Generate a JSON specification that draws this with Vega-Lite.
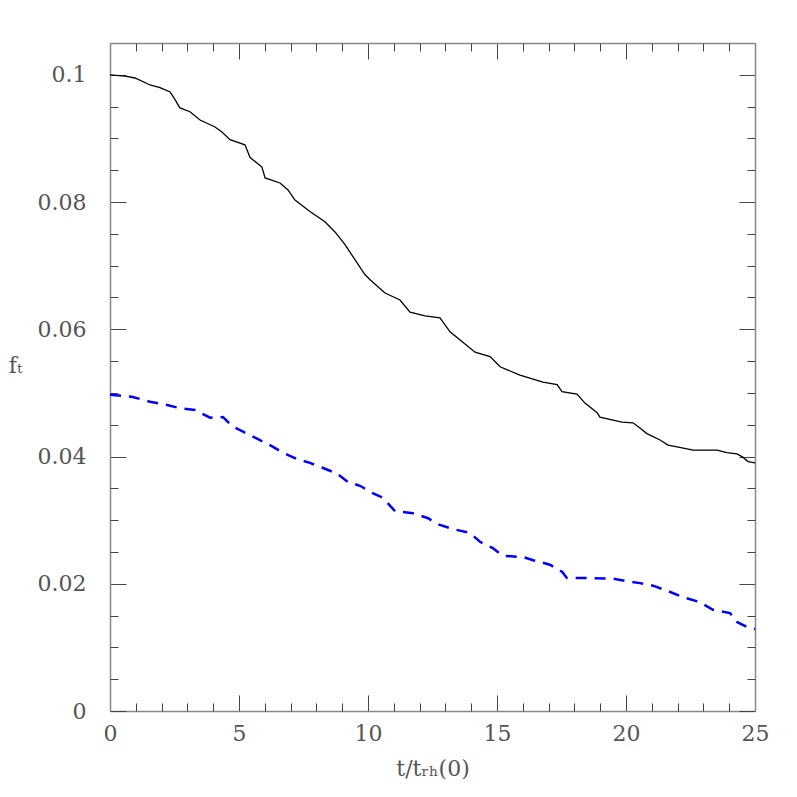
{
  "$schema": "https://vega.github.io/schema/vega-lite/v6.json",
  "width": 645,
  "height": 668,
  "autosize": {"type": "none"},
  "padding": {"left": 110, "top": 43, "right": 42, "bottom": 86},
  "background": "white",
  "config": {
    "view": {"stroke": null},
    "axis": {
      "labelFont": "DejaVu Serif",
      "labelFontSize": 22,
      "labelColor": "#555",
      "titleFont": "DejaVu Serif",
      "titleFontSize": 22,
      "titleFontWeight": "normal",
      "titleColor": "#555",
      "domainColor": "#888",
      "domainWidth": 1.5,
      "tickColor": "#444",
      "tickWidth": 1,
      "grid": false
    }
  },
  "datasets": {
    "black": [
      {"t": 0, "f": 0.1}, {"t": 0.58, "f": 0.0998}, {"t": 0.97, "f": 0.0995}, {"t": 1.55, "f": 0.0984},
      {"t": 1.94, "f": 0.098}, {"t": 2.33, "f": 0.0973}, {"t": 2.52, "f": 0.0961}, {"t": 2.71, "f": 0.0948},
      {"t": 3.1, "f": 0.0942}, {"t": 3.49, "f": 0.0929}, {"t": 4.07, "f": 0.0918}, {"t": 4.34, "f": 0.091},
      {"t": 4.65, "f": 0.0898}, {"t": 5.23, "f": 0.089}, {"t": 5.43, "f": 0.087}, {"t": 5.89, "f": 0.0855},
      {"t": 6.01, "f": 0.0838}, {"t": 6.59, "f": 0.083}, {"t": 6.9, "f": 0.0819}, {"t": 7.17, "f": 0.0803},
      {"t": 7.75, "f": 0.0785}, {"t": 8.33, "f": 0.0769}, {"t": 8.72, "f": 0.0753}, {"t": 9.11, "f": 0.0733},
      {"t": 9.5, "f": 0.0709}, {"t": 9.88, "f": 0.0686}, {"t": 10.08, "f": 0.0678}, {"t": 10.66, "f": 0.0657},
      {"t": 11.24, "f": 0.0646}, {"t": 11.63, "f": 0.0627}, {"t": 12.21, "f": 0.0621}, {"t": 12.79, "f": 0.0618},
      {"t": 13.18, "f": 0.0596}, {"t": 13.57, "f": 0.0583}, {"t": 14.15, "f": 0.0564}, {"t": 14.73, "f": 0.0557},
      {"t": 15.12, "f": 0.0541}, {"t": 15.89, "f": 0.0528}, {"t": 16.78, "f": 0.0517}, {"t": 17.33, "f": 0.0513},
      {"t": 17.52, "f": 0.0502}, {"t": 18.1, "f": 0.0498}, {"t": 18.41, "f": 0.0484}, {"t": 18.88, "f": 0.0469},
      {"t": 18.99, "f": 0.0462}, {"t": 19.84, "f": 0.0454}, {"t": 20.27, "f": 0.0453}, {"t": 20.54, "f": 0.0445},
      {"t": 20.81, "f": 0.0436}, {"t": 21.32, "f": 0.0426}, {"t": 21.63, "f": 0.0418}, {"t": 21.98, "f": 0.0415},
      {"t": 22.6, "f": 0.041}, {"t": 23.53, "f": 0.041}, {"t": 23.91, "f": 0.0406}, {"t": 24.3, "f": 0.0404},
      {"t": 24.53, "f": 0.0399}, {"t": 24.73, "f": 0.0392}, {"t": 25, "f": 0.039}
    ],
    "blue": [
      {"t": 0, "f": 0.0497}, {"t": 0.85, "f": 0.0494}, {"t": 1.55, "f": 0.0486}, {"t": 2.21, "f": 0.0481},
      {"t": 2.71, "f": 0.0476}, {"t": 3.29, "f": 0.0473}, {"t": 3.88, "f": 0.0461}, {"t": 4.38, "f": 0.0462},
      {"t": 4.73, "f": 0.0448}, {"t": 5.16, "f": 0.0439}, {"t": 5.7, "f": 0.0428}, {"t": 6.2, "f": 0.0418},
      {"t": 6.71, "f": 0.0406}, {"t": 7.25, "f": 0.0396}, {"t": 7.75, "f": 0.039}, {"t": 8.26, "f": 0.0382},
      {"t": 8.8, "f": 0.0373}, {"t": 9.22, "f": 0.036}, {"t": 9.69, "f": 0.0354}, {"t": 10.16, "f": 0.0343},
      {"t": 10.58, "f": 0.0335}, {"t": 11.05, "f": 0.0314}, {"t": 11.74, "f": 0.0311}, {"t": 12.33, "f": 0.0303},
      {"t": 12.67, "f": 0.0294}, {"t": 13.29, "f": 0.0286}, {"t": 13.95, "f": 0.028}, {"t": 14.34, "f": 0.0266},
      {"t": 14.84, "f": 0.0256}, {"t": 15.23, "f": 0.0244}, {"t": 16.01, "f": 0.0242}, {"t": 16.4, "f": 0.0237},
      {"t": 17.05, "f": 0.023}, {"t": 17.52, "f": 0.0219}, {"t": 17.71, "f": 0.0209}, {"t": 18.49, "f": 0.0209},
      {"t": 19.5, "f": 0.0208}, {"t": 20.04, "f": 0.0204}, {"t": 20.54, "f": 0.0201}, {"t": 21.05, "f": 0.0197},
      {"t": 21.59, "f": 0.0189}, {"t": 22.21, "f": 0.0179}, {"t": 22.87, "f": 0.0171}, {"t": 23.37, "f": 0.0159},
      {"t": 24.03, "f": 0.0154}, {"t": 24.3, "f": 0.014}, {"t": 24.69, "f": 0.0132}, {"t": 25, "f": 0.0129}
    ]
  },
  "resolve": {"axis": {"x": "independent", "y": "independent"}},
  "layer": [
    {
      "data": {"name": "black"},
      "mark": {"type": "line", "interpolate": "linear", "color": "black", "strokeWidth": 1.3},
      "encoding": {
        "x": {"field": "t", "type": "quantitative", "scale": {"domain": [0, 25], "nice": false, "zero": false},
          "axis": {"orient": "bottom", "values": [0, 5, 10, 15, 20, 25], "tickSize": -16, "labelPadding": 28, "title": "t/tᵣₕ(0)", "titlePadding": 14, "labelFlush": false, "labelOverlap": false}},
        "y": {"field": "f", "type": "quantitative", "scale": {"domain": [0, 0.105], "nice": false, "zero": false},
          "axis": {"orient": "left", "values": [0, 0.02, 0.04, 0.06, 0.08, 0.1], "format": "~g", "tickSize": -16, "labelPadding": 40, "title": "fₜ", "titleAngle": 0, "titlePadding": 22, "labelFlush": false, "labelOverlap": false}}
      }
    },
    {
      "data": {"name": "blue"},
      "mark": {"type": "line", "interpolate": "linear", "color": "#0000ff", "strokeWidth": 2.5, "strokeDash": [11, 8]},
      "encoding": {
        "x": {"field": "t", "type": "quantitative",
          "axis": {"orient": "bottom", "values": [1,2,3,4,6,7,8,9,11,12,13,14,16,17,18,19,21,22,23,24], "tickSize": -8, "labels": false, "domain": false, "title": null}},
        "y": {"field": "f", "type": "quantitative",
          "axis": {"orient": "left", "values": [0.005,0.01,0.015,0.025,0.03,0.035,0.045,0.05,0.055,0.065,0.07,0.075,0.085,0.09,0.095], "tickSize": -8, "labels": false, "domain": false, "title": null}}
      }
    },
    {
      "data": {"name": "black"},
      "mark": {"type": "line", "opacity": 0},
      "encoding": {
        "x": {"field": "t", "type": "quantitative",
          "axis": {"orient": "top", "values": [0, 5, 10, 15, 20, 25], "tickSize": -16, "labels": false, "title": null}},
        "y": {"field": "f", "type": "quantitative",
          "axis": {"orient": "right", "values": [0, 0.02, 0.04, 0.06, 0.08, 0.1], "tickSize": -16, "labels": false, "title": null}}
      }
    },
    {
      "data": {"name": "black"},
      "mark": {"type": "line", "opacity": 0},
      "encoding": {
        "x": {"field": "t", "type": "quantitative",
          "axis": {"orient": "top", "values": [1,2,3,4,6,7,8,9,11,12,13,14,16,17,18,19,21,22,23,24], "tickSize": -8, "labels": false, "domain": false, "title": null}},
        "y": {"field": "f", "type": "quantitative",
          "axis": {"orient": "right", "values": [0.005,0.01,0.015,0.025,0.03,0.035,0.045,0.05,0.055,0.065,0.07,0.075,0.085,0.09,0.095], "tickSize": -8, "labels": false, "domain": false, "title": null}}
      }
    }
  ]
}
